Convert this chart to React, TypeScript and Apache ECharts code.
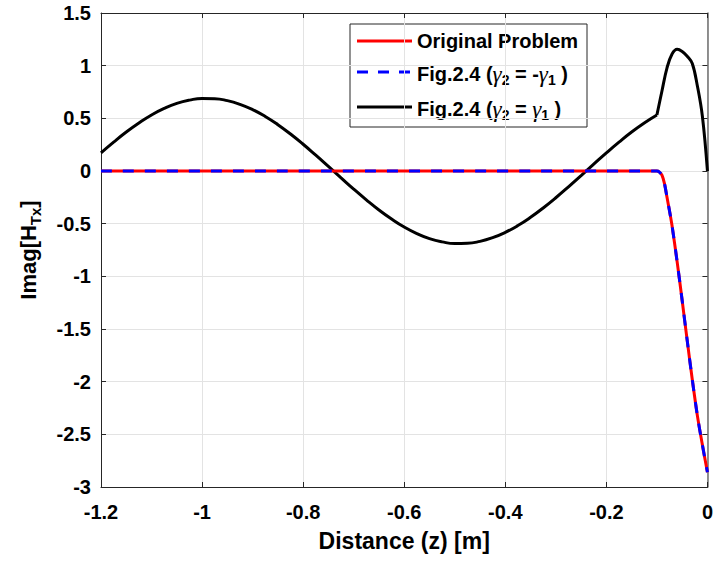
import React, { useEffect, useRef } from "react";
import * as echarts from "echarts";

// Fig.2.4 (γ2 = γ1): oscillating part, distance (m) and value
const zBlackWave = [
  -1.2, -1.175, -1.15, -1.125, -1.1, -1.075, -1.05, -1.025, -1.0, -0.975,
  -0.95, -0.925, -0.9, -0.875, -0.85, -0.825, -0.8, -0.775, -0.75, -0.725,
  -0.7, -0.675, -0.65, -0.625, -0.6, -0.575, -0.55, -0.525, -0.5, -0.475,
  -0.45, -0.425, -0.4, -0.375, -0.35, -0.325, -0.3, -0.275, -0.25, -0.225,
  -0.2, -0.175, -0.15, -0.125, -0.1,
];
const figPositiveWave = [
  0.172, 0.274, 0.370, 0.456, 0.532, 0.594, 0.642, 0.673, 0.689, 0.687,
  0.668, 0.633, 0.583, 0.518, 0.440, 0.351, 0.254, 0.150, 0.043, -0.065,
  -0.172, -0.274, -0.370, -0.456, -0.532, -0.594, -0.642, -0.673, -0.689, -0.687,
  -0.668, -0.633, -0.583, -0.518, -0.440, -0.351, -0.254, -0.150, -0.043, 0.065,
  0.172, 0.274, 0.370, 0.456, 0.532,
];
// Fig.2.4 (γ2 = γ1): peak near the end
const zBlackPeak = [-0.1, -0.09, -0.08, -0.07, -0.06, -0.05, -0.04, -0.03, -0.02, -0.01, 0];
const figPositivePeak = [0.532, 0.76, 0.98, 1.11, 1.155, 1.135, 1.09, 1.02, 0.81, 0.52, 0];

// Distance samples (m) for the red / blue curves
const zOriginal = [
  -1.2, -0.1, -0.095, -0.09, -0.085, -0.08, -0.075, -0.07, -0.06, -0.05,
  -0.04, -0.03, -0.02, -0.01, 0,
];
// Original Problem
const originalProblem = [
  0, 0, -0.01, -0.04, -0.12, -0.25, -0.38, -0.52, -0.86, -1.23,
  -1.61, -1.98, -2.32, -2.6, -2.86,
];
// Fig.2.4 (γ2 = -γ1), coincides with the original problem
const figNegative = [
  0, 0, -0.01, -0.04, -0.12, -0.25, -0.38, -0.52, -0.86, -1.23,
  -1.61, -1.98, -2.32, -2.6, -2.86,
];

const seriesNames = ["Original Problem", "Fig.2.4 (γ2 = -γ1 )", "Fig.2.4 (γ2 = γ1 )"];

const xTicks = { min: -1.2, max: 0, interval: 0.2 };
const yTicks = { min: -3, max: 1.5, interval: 0.5 };

const FONT = "'Liberation Sans', Arial, Helvetica, sans-serif";
const AXIS_COLOR = "#262626";

const fmt = (v: number) => String(parseFloat(v.toFixed(1)));

export default function App() {
  const ref = useRef<HTMLDivElement>(null);
  useEffect(() => {
    if (!ref.current) return;
    const chart = echarts.init(ref.current, undefined, { renderer: "svg" });
    const tickLabel = { fontFamily: FONT, fontWeight: "bold" as const, fontSize: 20, color: "#000" };
    const legendRich = {
      a: { fontFamily: FONT, fontWeight: "bold", fontSize: 20, fill: "#000", lineHeight: 26 },
      g: { fontFamily: "'Liberation Serif', 'DejaVu Serif', serif", fontStyle: "italic", fontSize: 23, fill: "#000", lineHeight: 26 },
      s: { fontFamily: FONT, fontWeight: "bold", fontSize: 14, fill: "#000", verticalAlign: "bottom" },
    };
    const lx1 = 357, lx2 = 412, tx = 417;
    const rows = [41, 72, 107];
    const blackLine = { color: "#000000", width: 3 };
    chart.setOption({
      animation: false,
      backgroundColor: "#fff",
      grid: { left: 101, right: 8, top: 13, bottom: 77, containLabel: false },
      xAxis: [
        {
          type: "value",
          min: xTicks.min,
          max: xTicks.max,
          interval: xTicks.interval,
          name: "Distance (z) [m]",
          nameLocation: "middle",
          nameGap: 42,
          nameTextStyle: { fontFamily: FONT, fontWeight: "bold", fontSize: 23, color: "#000" },
          axisLine: { show: true, onZero: false, lineStyle: { color: AXIS_COLOR, width: 1 } },
          axisTick: { show: true, inside: true, length: 5, lineStyle: { color: AXIS_COLOR } },
          axisLabel: { ...tickLabel, margin: 15, formatter: fmt },
          splitLine: { show: true, lineStyle: { color: "#e3e3e3", width: 1 } },
        },
        {
          type: "value",
          position: "top",
          min: xTicks.min,
          max: xTicks.max,
          interval: xTicks.interval,
          axisLine: { show: true, onZero: false, lineStyle: { color: AXIS_COLOR, width: 1 } },
          axisTick: { show: true, inside: true, length: 5, lineStyle: { color: AXIS_COLOR } },
          axisLabel: { show: false },
          splitLine: { show: false },
        },
      ],
      yAxis: [
        {
          type: "value",
          min: yTicks.min,
          max: yTicks.max,
          interval: yTicks.interval,
          name: "{a|Imag[H}{s|Tx}{a|]}",
          nameLocation: "middle",
          nameGap: 58,
          nameRotate: 90,
          nameTextStyle: {
            rich: {
              a: { fontFamily: FONT, fontWeight: "bold", fontSize: 22, color: "#000", lineHeight: 30 },
              s: { fontFamily: FONT, fontWeight: "bold", fontSize: 15, color: "#000", verticalAlign: "bottom" },
            },
          },
          axisLine: { show: true, onZero: false, lineStyle: { color: AXIS_COLOR, width: 1 } },
          axisTick: { show: true, inside: true, length: 5, lineStyle: { color: AXIS_COLOR } },
          axisLabel: { ...tickLabel, margin: 10, formatter: fmt },
          splitLine: { show: true, lineStyle: { color: "#e3e3e3", width: 1 } },
        },
        {
          type: "value",
          position: "right",
          min: yTicks.min,
          max: yTicks.max,
          interval: yTicks.interval,
          axisLine: { show: true, onZero: false, lineStyle: { color: "#6e6e6e", width: 1.5 } },
          axisTick: { show: true, inside: true, length: 5, lineStyle: { color: AXIS_COLOR } },
          axisLabel: { show: false },
          splitLine: { show: false },
        },
      ],
      series: [
        {
          name: seriesNames[0],
          type: "line",
          xAxisIndex: 0,
          yAxisIndex: 0,
          data: zOriginal.map((z, i) => [z, originalProblem[i]]),
          showSymbol: false,
          smooth: 0.3,
          lineStyle: { color: "#ff0000", width: 3 },
          z: 3,
        },
        {
          name: seriesNames[1],
          type: "line",
          xAxisIndex: 0,
          yAxisIndex: 0,
          data: zOriginal.map((z, i) => [z, figNegative[i]]),
          showSymbol: false,
          smooth: 0.3,
          lineStyle: { color: "#0000ff", width: 3, type: [11, 11] },
          z: 4,
        },
        {
          name: seriesNames[2],
          type: "line",
          xAxisIndex: 0,
          yAxisIndex: 0,
          data: zBlackWave.map((z, i) => [z, figPositiveWave[i]]),
          showSymbol: false,
          smooth: 0.5,
          lineStyle: blackLine,
          z: 2,
        },
        {
          name: seriesNames[2],
          type: "line",
          xAxisIndex: 0,
          yAxisIndex: 0,
          data: zBlackPeak.map((z, i) => [z, figPositivePeak[i]]),
          showSymbol: false,
          smooth: 0.4,
          lineStyle: blackLine,
          z: 2,
        },
      ],
      graphic: [
        {
          type: "group",
          z: 100,
          children: [
            {
              type: "rect",
              shape: { x: 350, y: 24, width: 237, height: 103 },
              style: { fill: "#fff", stroke: AXIS_COLOR, lineWidth: 1 },
            },
            { type: "line", shape: { x1: lx1, y1: rows[0], x2: lx2, y2: rows[0] }, style: { stroke: "#ff0000", lineWidth: 3 } },
            { type: "line", shape: { x1: lx1, y1: rows[1], x2: lx2, y2: rows[1] }, style: { stroke: "#0000ff", lineWidth: 3, lineDash: [11, 10] } },
            { type: "line", shape: { x1: lx1, y1: rows[2], x2: lx2, y2: rows[2] }, style: { stroke: "#000000", lineWidth: 3 } },
            {
              type: "text",
              x: tx,
              y: rows[0],
              style: { text: "{a|Original Problem}", rich: legendRich, verticalAlign: "middle", align: "left" },
            },
            {
              type: "text",
              x: tx,
              y: rows[1] + 2,
              style: { text: "{a|Fig.2.4 (}{g|γ}{s|2}{a| = -}{g|γ}{s|1}{a| )}", rich: legendRich, verticalAlign: "middle", align: "left" },
            },
            {
              type: "text",
              x: tx,
              y: rows[2] + 2,
              style: { text: "{a|Fig.2.4 (}{g|γ}{s|2}{a| = }{g|γ}{s|1}{a| )}", rich: legendRich, verticalAlign: "middle", align: "left" },
            },
          ],
        },
      ],
    });
    return () => chart.dispose();
  }, []);
  return (
    <div
      ref={ref}
      style={{ position: "fixed", left: 0, top: 0, width: 716, height: 564, background: "#fff" }}
    />
  );
}
